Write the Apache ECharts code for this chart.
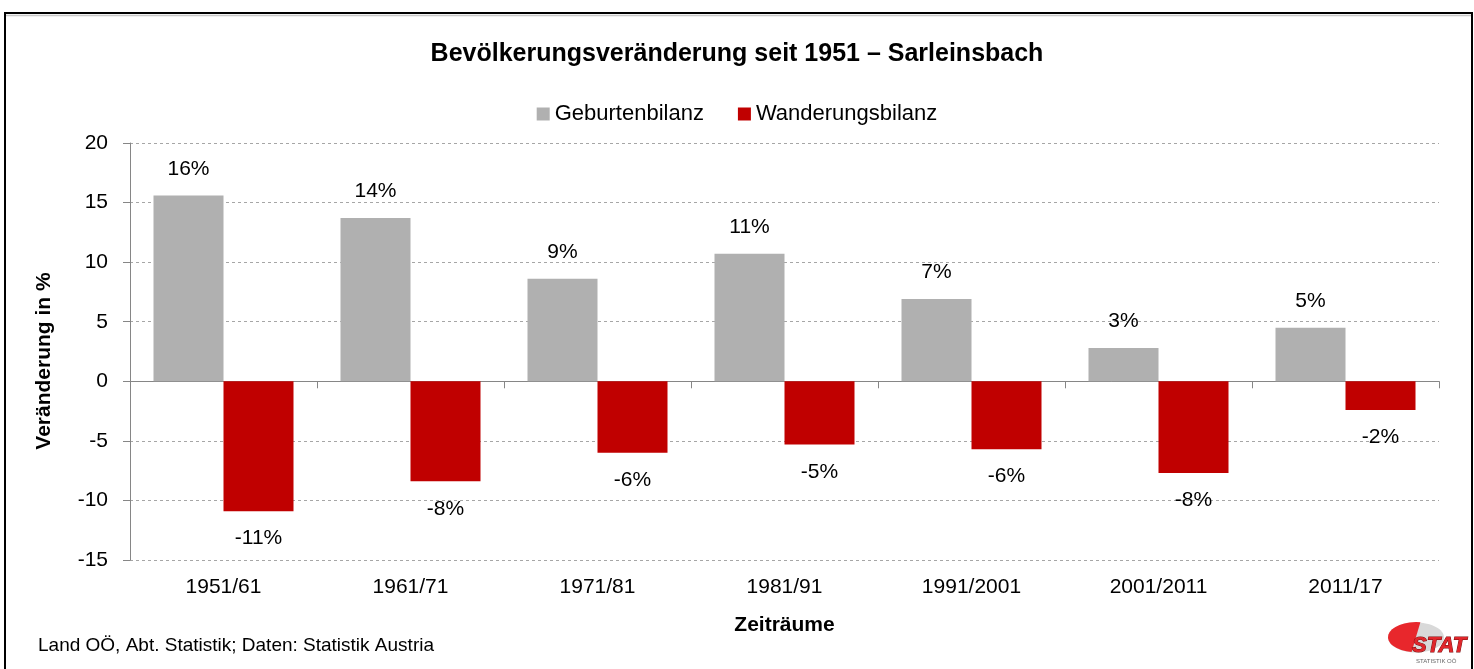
<!DOCTYPE html>
<html>
<head>
<meta charset="utf-8">
<script src="https://cdn.jsdelivr.net/npm/echarts@6/dist/echarts.min.js"></script>
<style>
  html, body { margin: 0; padding: 0; background: #fff; }
  #chart { width: 1474px; height: 669px; }
</style>
</head>
<body>
<div id="chart"></div>
<script>
// Daten
const zeitraeume = ['1951/61', '1961/71', '1971/81', '1981/91', '1991/2001', '2001/2011', '2011/17']
const geburtenbilanz = [15.6, 13.7, 8.6, 10.7, 6.9, 2.8, 4.5]
const wanderungsbilanz = [-10.9, -8.4, -6.0, -5.3, -5.7, -7.7, -2.4]
const yTicks = { min: -15, max: 20, interval: 5 }

const FONT = '"Liberation Sans", Arial, sans-serif'
const pct = p => Math.round(p.value) + '%'

const option = {
    backgroundColor: '#fff',
    textStyle: { fontFamily: FONT },
    title: {
        text: 'Bevölkerungsveränderung seit 1951 – Sarleinsbach',
        left: 'center',
        top: 37,
        textStyle: { fontFamily: FONT, fontSize: 25, fontWeight: 'bold', color: '#000' }
    },
    legend: {
        top: 98,
        left: 'center',
        icon: 'rect',
        itemWidth: 13,
        itemHeight: 13,
        itemGap: 34,
        textStyle: { fontFamily: FONT, fontSize: 22, color: '#000' }
    },
    grid: { left: 130, right: 35, top: 143, bottom: 109 },
    xAxis: [
        {
            type: 'category',
            data: zeitraeume,
            position: 'bottom',
            axisLine: { onZero: true, lineStyle: { color: '#868686', width: 1 } },
            axisTick: { show: true, length: 7, lineStyle: { color: '#868686' } },
            axisLabel: { show: false }
        },
        {
            type: 'category',
            data: zeitraeume,
            position: 'bottom',
            axisLine: { show: false, onZero: false },
            axisTick: { show: false },
            axisLabel: { margin: 17, fontFamily: FONT, fontSize: 21, color: '#000' },
            name: 'Zeiträume',
            nameLocation: 'middle',
            nameGap: 55,
            nameTextStyle: { fontFamily: FONT, fontSize: 21, fontWeight: 'bold', color: '#000' }
        }
    ],
    yAxis: {
        type: 'value',
        min: yTicks.min,
        max: yTicks.max,
        interval: yTicks.interval,
        axisLine: { show: true, lineStyle: { color: '#868686' } },
        axisTick: { show: true, length: 7, lineStyle: { color: '#868686' } },
        axisLabel: { margin: 22, fontFamily: FONT, fontSize: 21, color: '#000' },
        splitLine: { lineStyle: { color: '#a6a6a6', type: [3, 3], width: 1 } }
    },
    series: [
        {
            name: 'Geburtenbilanz',
            type: 'bar',
            xAxisIndex: 0,
            data: geburtenbilanz,
            barWidth: 70,
            barGap: '0%',
            itemStyle: { color: '#b0b0b0' },
            label: { show: true, position: 'top', distance: 16, formatter: pct,
                fontFamily: FONT, fontSize: 21, color: '#000' }
        },
        {
            name: 'Wanderungsbilanz',
            type: 'bar',
            xAxisIndex: 0,
            data: wanderungsbilanz,
            barWidth: 70,
            barGap: '0%',
            itemStyle: { color: '#c00000' },
            label: { show: true, position: 'bottom', distance: 17, formatter: pct,
                fontFamily: FONT, fontSize: 21, color: '#000' }
        }
    ],
    graphic: [
        // Rahmen
        { type: 'rect', z: 100, silent: true,
          shape: { x: 5, y: 13, width: 1467, height: 700 },
          style: { fill: 'none', stroke: '#000', lineWidth: 2 } },
        { type: 'line', z: 99, silent: true,
          shape: { x1: 6, y1: 15.5, x2: 1472, y2: 15.5 },
          style: { stroke: '#c8c8c8', lineWidth: 1.5 } },
        // Achsentitel Y
        { type: 'text', x: 44, y: 361, rotation: Math.PI / 2,
          style: { text: 'Veränderung in %', font: 'bold 21px ' + FONT, fill: '#000',
                   align: 'center', verticalAlign: 'middle' } },
        // Quelle
        { type: 'text', left: 38, top: 636,
          style: { text: 'Land OÖ, Abt. Statistik; Daten: Statistik Austria',
                   font: '19px ' + FONT, fill: '#000' } },
        // Logo
        { type: 'group', left: 1388, top: 622, children: [
            { type: 'ellipse', shape: { cx: 30, cy: 17, rx: 28, ry: 15 },
              style: { fill: '#d9d9d9' } },
            { type: 'sector', scaleY: 0.54, shape: { cx: 30, cy: 31, r: 28, startAngle: Math.PI * 0.55, endAngle: Math.PI * 1.55 },
              style: { fill: '#e8272c' } },
            { type: 'text', x: 26, y: 15,
              style: { text: 'STAT', font: 'italic bold 22px ' + FONT, fill: '#e0262b',
                       stroke: '#7a0c0c', lineWidth: 1 } },
            { type: 'text', x: 30, y: 38,
              style: { text: 'STATISTIK OÖ', font: '6px ' + FONT, fill: '#666' } }
        ] }
    ]
}

const chart = echarts.init(document.getElementById('chart'))
chart.setOption(option)
window.onresize = function () {
    chart.resize()
}
</script>
</body>
</html>
